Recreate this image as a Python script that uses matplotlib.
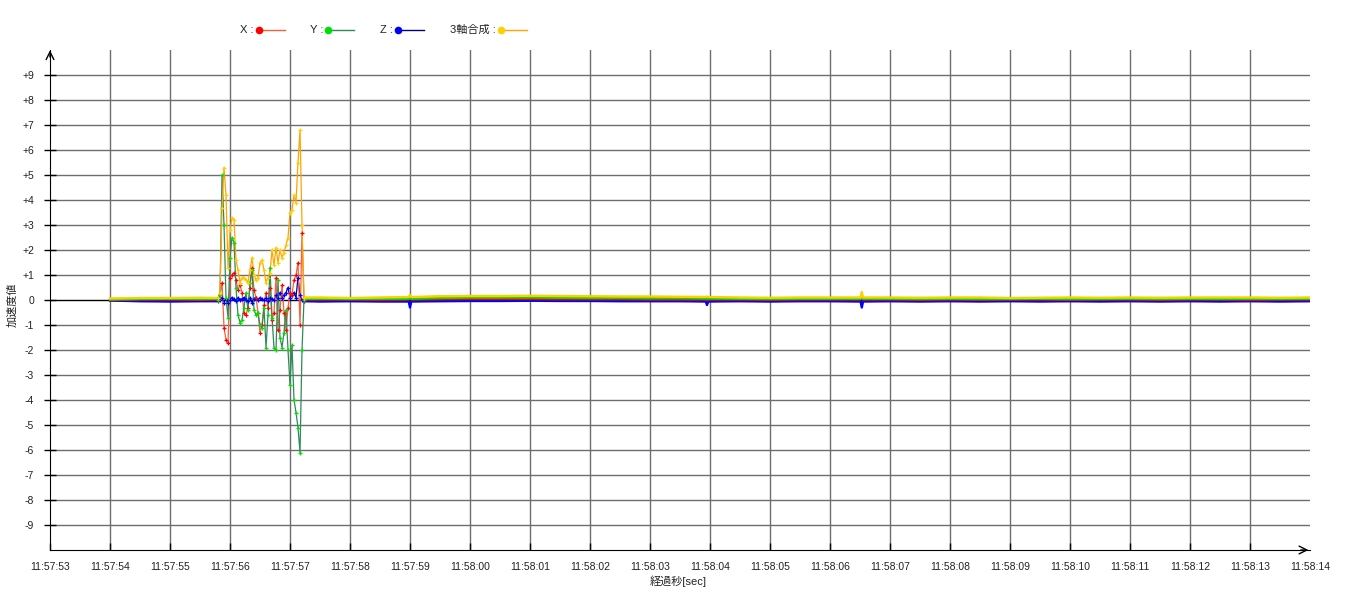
import numpy as np
import matplotlib.pyplot as plt
from matplotlib.lines import Line2D

plt.rcParams['font.family'] = ['Liberation Sans', 'Noto Sans CJK JP']

# 時刻ラベル（11:57:53 からの経過秒 0..21）
tick_labels = ["11:57:53", "11:57:54", "11:57:55", "11:57:56", "11:57:57", "11:57:58",
               "11:57:59", "11:58:00", "11:58:01", "11:58:02", "11:58:03", "11:58:04",
               "11:58:05", "11:58:06", "11:58:07", "11:58:08", "11:58:09", "11:58:10",
               "11:58:11", "11:58:12", "11:58:13", "11:58:14"]
y_labels = ["-9", "-8", "-7", "-6", "-5", "-4", "-3", "-2", "-1", "0",
            "+1", "+2", "+3", "+4", "+5", "+6", "+7", "+8", "+9"]

# 揺れている区間（秒）
t_burst = [2.800, 2.833, 2.867, 2.900, 2.933, 2.967, 3.000, 3.033, 3.067, 3.100, 3.133,
           3.167, 3.200, 3.233, 3.267, 3.300, 3.333, 3.367, 3.400, 3.433, 3.467, 3.500,
           3.533, 3.567, 3.600, 3.633, 3.667, 3.700, 3.733, 3.767, 3.800, 3.833, 3.867,
           3.900, 3.933, 3.967, 4.000, 4.033, 4.067, 4.100, 4.133, 4.167, 4.200, 4.233]
x_burst = [0.0, 0.2, 0.7, -1.1, -1.6, -1.7, 0.9, 1.0, 1.1, 0.8, 0.4,
           0.6, 0.3, -0.5, -0.6, -0.3, 0.5, 1.3, 0.4, 0.1, -0.5, -1.3,
           -1.0, -0.2, 0.3, -0.3, 0.5, -0.8, -0.5, 0.9, -1.2, -0.4, 0.6,
           -0.5, -1.2, -0.3, 0.3, 0.2, 0.8, 1.0, 1.5, -1.0, 2.7, 0.0]
y_burst = [0.0, 0.2, 5.0, 3.0, 0.1, -0.7, 1.7, 2.5, 2.3, 0.5, -0.6,
           -0.9, -0.8, -0.3, 0.3, -0.4, 0.7, 1.2, -0.4, -0.6, -0.5, -1.0,
           -1.1, -0.3, -1.9, -0.6, 1.3, -0.7, -1.9, -2.0, 0.8, -1.5, -1.9,
           -1.3, -0.4, -2.0, -3.4, -1.8, -4.0, -4.5, -5.1, -6.1, -2.0, 0.0]
z_burst = [-0.05, 0.0, 0.1, -0.1, 0.05, -0.1, 0.0, 0.1, 0.05, -0.05, 0.1,
           0.0, 0.05, 0.1, 0.0, -0.05, 0.1, -0.1, 0.05, 0.1, 0.0, 0.1,
           0.05, 0.0, 0.1, -0.05, 0.1, 0.05, 0.0, 0.2, 0.1, 0.3, 0.1,
           0.2, 0.3, 0.5, 0.1, 0.2, 0.3, 0.1, 0.9, 0.2, 0.0, -0.05]
s_burst = [0.1, 0.3, 3.7, 5.3, 4.2, 1.3, 2.8, 3.3, 3.2, 1.6, 1.2,
           0.7, 0.9, 0.9, 0.8, 0.7, 1.2, 1.7, 1.0, 0.8, 0.9, 1.5,
           1.6, 1.2, 0.7, 0.9, 1.1, 2.0, 1.4, 2.1, 1.5, 2.0, 1.7,
           1.9, 2.2, 2.5, 3.5, 3.6, 4.2, 3.9, 5.5, 6.8, 3.0, 0.1]

# 静かな区間（秒）
t_calm = [1.0, 1.5, 2.0, 2.5, 2.77,
          4.27, 4.5, 5.0, 5.5, 5.98, 6.0, 6.02, 6.5, 7.0, 7.5, 8.0, 8.5, 9.0, 9.5,
          10.0, 10.5, 10.93, 10.95, 10.97, 11.5, 12.0, 12.5, 13.0, 13.51, 13.53, 13.55,
          14.0, 14.5, 15.0, 15.5, 16.0, 16.5, 17.0, 17.5, 18.0, 18.5, 19.0, 19.5,
          20.0, 20.5, 21.0]
x_calm = [0.0, 0.02, 0.02, 0.01, 0.02,
          0.02, 0.02, 0.02, 0.01, 0.02, 0.05, 0.02, 0.03, 0.04, 0.04, 0.04, 0.03, 0.03, 0.03,
          0.02, 0.02, 0.02, 0.0, 0.02, 0.02, 0.01, 0.02, 0.02, 0.02, 0.1, 0.02,
          0.02, 0.01, 0.02, 0.01, 0.02, 0.02, 0.01, 0.02, 0.02, 0.01, 0.02, 0.02,
          0.01, 0.02, 0.02]
y_calm = [0.02, 0.04, 0.05, 0.04, 0.05,
          0.05, 0.05, 0.04, 0.05, 0.05, 0.1, 0.05, 0.08, 0.1, 0.1, 0.1, 0.09, 0.08, 0.08,
          0.07, 0.07, 0.06, 0.05, 0.06, 0.05, 0.04, 0.05, 0.05, 0.05, 0.15, 0.05,
          0.05, 0.04, 0.05, 0.04, 0.04, 0.05, 0.04, 0.04, 0.05, 0.04, 0.05, 0.04,
          0.05, 0.04, 0.05]
z_calm = [-0.02, -0.05, -0.06, -0.05, -0.05,
          -0.05, -0.06, -0.05, -0.06, -0.06, -0.3, -0.06, -0.05, -0.04, -0.04, -0.03, -0.04, -0.04, -0.05,
          -0.05, -0.05, -0.06, -0.2, -0.06, -0.05, -0.06, -0.05, -0.05, -0.06, -0.3, -0.06,
          -0.05, -0.06, -0.05, -0.06, -0.05, -0.06, -0.05, -0.06, -0.05, -0.06, -0.05, -0.06,
          -0.05, -0.06, -0.05]
s_calm = [0.06, 0.08, 0.08, 0.09, 0.08,
          0.1, 0.1, 0.08, 0.1, 0.12, 0.2, 0.12, 0.15, 0.16, 0.16, 0.17, 0.16, 0.15, 0.14,
          0.14, 0.13, 0.12, 0.14, 0.12, 0.1, 0.09, 0.1, 0.1, 0.1, 0.32, 0.1,
          0.1, 0.09, 0.1, 0.1, 0.08, 0.09, 0.1, 0.09, 0.1, 0.09, 0.1, 0.1,
          0.1, 0.09, 0.1]

# 系列ごとの設定（名前, 静, 揺, 線色, マーカー色）
series = [
    ("Z", z_calm, z_burst, "#000080", "#0000ff"),
    ("X", x_calm, x_burst, "#f5603f", "#ff0000"),
    ("Y", y_calm, y_burst, "#2e8b57", "#00e000"),
    ("3軸合成", s_calm, s_burst, "#ffa500", "#ffd000"),
]

fig = plt.figure(figsize=(13.5, 6.1), dpi=100)
ax = fig.add_axes([50 / 1350, 60 / 610, 1260 / 1350, 500 / 610])
ax.set_xlim(0, 21)
ax.set_ylim(-10, 10)

# グリッド
for v in range(1, 21):
    ax.axvline(v, color="#6e6e6e", lw=1, zorder=0)
for v in range(-9, 10):
    ax.axhline(v, color="black" if v == 0 else "#6e6e6e", lw=1, zorder=0)

t_calm_arr = np.array(t_calm)
for name, calm, burst, lc, mc in series:
    t = np.concatenate([t_calm_arr, t_burst])
    v = np.concatenate([calm, burst])
    order = np.argsort(t)
    t, v = t[order], v[order]
    ax.plot(t, v, color=lc, lw=0.9, zorder=2)
    ax.plot(t_burst, burst, ls="none", marker="+", ms=3.5, mew=0.9, color=mc, zorder=3)
    # 静かな区間はマーカーが密集して帯に見える
    calm_arr = np.array(calm)
    for mask in (t_calm_arr < 2.8, t_calm_arr > 4.2):
        ax.plot(t_calm_arr[mask], calm_arr[mask], color=mc, lw=1.7, zorder=2)

# 軸
for side in ("top", "right"):
    ax.spines[side].set_visible(False)
ax.spines["left"].set_color("black")
ax.spines["bottom"].set_color("black")
ax.set_xticks(range(0, 22))
ax.set_xticklabels(tick_labels, fontsize=7.5, color="#222222")
ax.set_yticks(range(-9, 10))
ax.set_yticklabels(y_labels, fontsize=7.5, color="#222222")
ax.tick_params(axis="x", direction="in", length=5, width=1, pad=9)
ax.tick_params(axis="y", direction="inout", length=9, width=1, pad=7)
ax.xaxis.get_major_ticks()[-1].tick1line.set_visible(False)
ax.annotate("", xy=(21.02, -10), xytext=(20.8, -10),
            arrowprops=dict(arrowstyle="->", color="black", lw=1, mutation_scale=14),
            annotation_clip=False)
ax.annotate("", xy=(0, 10.1), xytext=(0, 9.6),
            arrowprops=dict(arrowstyle="->", color="black", lw=1, mutation_scale=14),
            annotation_clip=False)

fig.text(678 / 1350, 1 - 581 / 610, "経過秒[sec]", ha="center", va="center", fontsize=8, color="#222222")
fig.text(12 / 1350, 0.5, "加速度値", ha="center", va="center", rotation=90, fontsize=8, color="#222222")

# 凡例（手描き）
legend_items = [("X :", 240, "#f5603f", "#ff0000"),
                ("Y :", 310, "#2e8b57", "#00e000"),
                ("Z :", 380, "#000080", "#0000ff"),
                ("3軸合成 :", 450, "#ffa500", "#ffd000")]
ly = 1 - 30 / 610
for label, x0, lc, mc in legend_items:
    txt = fig.text(x0 / 1350, ly, label, ha="left", va="center", fontsize=8, color="#222222")
    fig.canvas.draw()
    bb = txt.get_window_extent()
    mx = bb.x1 + 5
    fig.add_artist(Line2D([mx / 1350, (mx + 26) / 1350], [ly, ly], color=lc, lw=1))
    fig.add_artist(Line2D([mx / 1350], [ly], color=mc, marker="o", ms=4.5, ls="none"))

fig.savefig("out.png", dpi=100)
